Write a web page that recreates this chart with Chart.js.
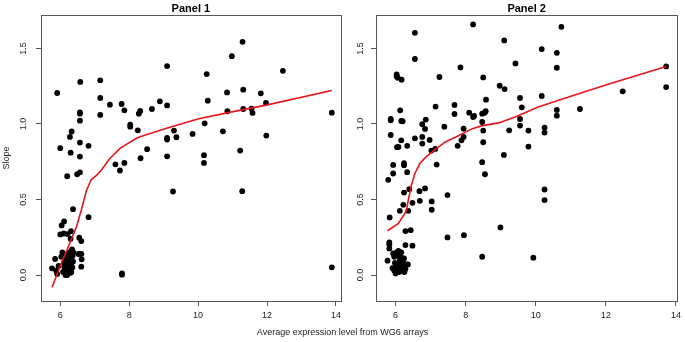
<!DOCTYPE html>
<html><head><meta charset="utf-8">
<script src="https://cdn.jsdelivr.net/npm/chart.js@4/dist/chart.umd.min.js"></script>
<style>
html,body{margin:0;padding:0;background:#fff;width:685px;height:342px;overflow:hidden;}
#c1{position:absolute;left:0;top:0;}
#c2{position:absolute;left:345px;top:0;}
#xt{position:absolute;left:0;width:685px;top:327px;line-height:11px;text-align:center;font:9px "Liberation Sans",Arial,sans-serif;color:#222;}
</style></head><body>
<canvas id="c1" width="345" height="342"></canvas>
<canvas id="c2" width="340" height="342"></canvas>
<div id="xt">Average expression level from WG6 arrays</div>
<script>
const xTicks=[6,8,10,12,14];
const yTicks=[0,0.5,1.0,1.5];
const titles=["Panel 1","Panel 2"];
const yTitle="Slope";

const p1x=[5.91,6.0,6.2,6.28,6.30,6.33,6.37,6.49,6.58,6.57,6.57,6.57,6.57,6.57,6.57,6.82,6.82,7.16,7.16,7.16,7.44,7.78,7.86,7.60,7.73,7.86,7.79,7.79,8.03,8.03,8.25,8.28,8.32,8.33,8.52,8.66,8.89,9.10,9.10,9.10,9.10,9.10,9.30,9.37,9.27,9.84,10.17,10.17,10.19,10.25,10.28,10.72,10.84,10.85,10.98,11.29,11.31,11.31,11.22,11.28,11.55,11.58,11.82,11.97,11.98,12.46,13.88,13.88,
5.76,5.85,5.88,5.91,5.95,6.0,6.04,6.11,6.10,6.21,6.31,6.30,6.55,6.61,6.53,6.61,6.62,6.61,6.03,6.06,
6.08,6.10,6.12,6.14,6.15,6.16,6.17,6.18,6.19,6.20,6.21,6.22,6.23,6.24,6.25,6.26,6.27,6.28,6.29,6.30,6.31,6.32,6.33,6.34,6.35,6.36,6.37,6.38,6.12,6.18,6.22,6.27,6.20,6.30,6.24,6.15];
const p1y=[1.205,0.84,0.654,0.914,0.81,0.95,0.436,0.667,1.278,1.077,1.068,1.022,0.877,0.784,0.68,0.855,0.383,1.289,1.172,1.06,1.128,1.132,1.09,0.733,0.692,0.742,0.01,0.002,0.996,0.982,0.958,1.068,1.086,0.773,0.833,1.099,1.15,1.383,1.123,0.907,0.897,0.786,0.956,0.912,0.553,0.934,0.793,0.742,1.004,1.33,1.154,0.951,1.209,1.084,1.449,1.544,1.227,1.099,0.824,0.555,1.101,1.073,1.203,1.139,0.923,1.352,1.075,0.051,
0.044,0.106,0.029,0.007,0.06,0.269,0.328,0.355,0.275,0.271,0.29,0.24,0.247,0.225,0.139,0.139,0.104,0.055,0.121,0.15,
0.02,0.08,0.05,0.11,0.0,0.03,0.07,0.13,0.01,0.09,0.04,0.12,0.06,0.02,0.10,0.15,0.05,0.08,0.03,0.12,0.07,0.02,0.10,0.17,0.05,0.13,0.09,0.15,0.13,0.045,0.075,0.115,0.0,0.015,0.14,0.09];
const p1lx=[5.76,5.99,6.23,6.47,6.61,6.76,6.90,7.05,7.19,7.43,7.74,8.25,9.06,10.02,10.98,11.94,13.88];
const p1ly=[-0.081,0.055,0.187,0.32,0.43,0.56,0.632,0.66,0.694,0.77,0.84,0.91,0.97,1.035,1.08,1.123,1.222];

const p2x=[6.55,6.55,6.03,6.03,6.06,6.17,5.86,5.86,5.86,5.79,5.83,5.93,5.93,6.04,6.08,6.13,6.16,6.20,6.16,6.24,6.24,6.33,6.33,6.24,6.39,6.22,6.12,6.36,6.48,6.55,6.28,6.43,6.28,6.48,6.68,6.69,6.76,6.86,6.84,6.76,6.76,6.84,6.97,7.02,7.13,7.14,7.17,7.03,7.03,7.25,7.39,7.68,7.68,7.77,7.48,7.48,7.85,7.88,7.94,7.94,7.95,8.10,8.21,8.24,8.21,8.47,8.54,8.57,8.50,8.47,8.50,8.50,8.47,8.55,8.58,8.47,8.97,9.11,9.10,9.09,8.99,9.24,9.42,9.55,9.60,9.55,9.55,9.79,9.79,9.93,10.17,10.17,10.25,10.25,10.25,10.25,10.60,10.60,10.60,10.60,10.73,11.26,12.48,13.72,13.72,
5.77,5.82,5.82,5.82,5.91,5.93,5.96,5.96,6.0,6.03,6.05,6.08,6.10,6.12,6.01,6.05,6.07,6.13,6.15,6.18,6.20,6.22,6.25,6.28,6.30,6.35,6.24,6.16,6.10,5.98];
const p2y=[1.603,1.43,1.328,1.315,1.306,1.293,1.033,1.024,0.927,0.63,0.381,0.729,0.672,0.846,0.848,1.09,1.02,1.018,0.892,0.74,0.727,0.855,0.681,0.546,0.568,0.465,0.425,0.425,0.478,0.905,0.291,0.297,0.198,0.194,0.555,0.491,0.998,1.029,0.967,0.914,0.87,0.573,0.894,0.824,0.835,1.115,0.731,0.487,0.432,1.311,0.982,1.126,1.066,0.855,0.529,0.249,1.374,0.892,0.969,0.914,0.264,1.075,1.046,1.053,1.659,1.068,1.075,1.084,1.308,1.013,0.956,0.879,0.747,0.667,1.161,0.121,1.253,1.231,1.553,0.795,0.315,0.958,1.401,1.172,1.11,1.033,0.989,0.956,0.85,0.115,1.496,1.185,0.976,0.943,0.566,0.496,1.471,1.372,1.093,1.055,1.643,1.099,1.216,1.381,1.244,
0.095,0.216,0.203,0.176,0.046,0.143,0.121,0.03,0.01,0.15,0.13,0.16,0.07,0.10,0.06,0.02,0.04,0.03,0.12,0.06,0.09,0.05,0.02,0.04,0.07,0.07,0.11,0.15,0.02,0.08];
const p2lx=[5.77,6.08,6.26,6.31,6.36,6.45,6.55,6.69,6.87,7.16,7.42,7.72,8.19,8.47,8.94,9.41,10.07,10.63,11.95,13.72];
const p2ly=[0.293,0.341,0.407,0.43,0.495,0.595,0.672,0.738,0.782,0.837,0.881,0.914,0.969,0.989,1.007,1.046,1.112,1.156,1.255,1.381];

const FONT="'Liberation Sans', Arial, sans-serif";
const boxPlugin={id:'box',afterDatasetsDraw(ch){const a=ch.chartArea,c=ch.ctx;c.save();c.strokeStyle='#555';c.lineWidth=1;c.strokeRect(Math.round(a.left)+0.5,Math.round(a.top)+0.5,Math.round(a.right-a.left),Math.round(a.bottom-a.top));c.restore();}};
const yLabPlugin={id:'ylab',afterDraw(ch,args,opts){
  const s=ch.scales.y,c=ch.ctx,a=ch.chartArea;c.save();
  c.font="9px "+FONT;c.fillStyle='#222';c.textAlign='center';c.textBaseline='middle';
  s.ticks.forEach(t=>{const y=s.getPixelForValue(t.value);c.save();c.translate(a.left-opts.off,y);c.rotate(-Math.PI/2);c.fillText(t.value.toFixed(1),0,0);c.restore();});
  c.restore();}};

function make(id,xs,ys,lx,ly,title,showYTitle,yw,xmin,xmax,padR,off){
  const pts=xs.map((x,i)=>({x:x,y:ys[i]}));
  const ln=lx.map((x,i)=>({x:x,y:ly[i]}));
  return new Chart(document.getElementById(id),{
    type:'scatter',
    data:{datasets:[
      {data:ln,showLine:true,borderColor:'#e8161b',borderWidth:1.6,pointRadius:0,order:0,tension:0},
      {data:pts,pointRadius:2.9,pointBackgroundColor:'#000',pointBorderColor:'#000',pointBorderWidth:0,order:1}
    ]},
    options:{responsive:false,animation:false,devicePixelRatio:1,
      layout:{padding:{left:0,right:padR,top:0,bottom:0}},
      plugins:{legend:{display:false},tooltip:{enabled:false},ylab:{off:off},
        title:{display:true,text:title,fullSize:false,font:{family:FONT,size:11,weight:'bold'},color:'#000',padding:{top:2,bottom:0}}},
      scales:{
        x:{type:'linear',min:xmin,max:xmax,
          afterBuildTicks:s=>{s.ticks=xTicks.map(v=>({value:v}));},
          afterFit:s=>{s.height=41;},
          grid:{display:true,drawOnChartArea:false,drawTicks:true,tickLength:5,color:'#555'},
          border:{display:false},
          ticks:{font:{family:FONT,size:9},color:'#222',padding:4,maxRotation:0,autoSkip:false,callback:v=>String(v)}},
        y:{type:'linear',min:-0.172,max:1.72,
          afterBuildTicks:s=>{s.ticks=yTicks.map(v=>({value:v}));},
          afterFit:s=>{s.width=yw;},
          grid:{display:true,drawOnChartArea:false,drawTicks:true,tickLength:5,color:'#555'},
          border:{display:false},
          title:{display:showYTitle,text:yTitle,font:{family:FONT,size:9},color:'#222',padding:{top:1,bottom:0}},
          ticks:{display:false}}
      }
    },
    plugins:[boxPlugin,yLabPlugin]
  });
}
make('c1',p1x,p1y,p1lx,p1ly,titles[0],true,41,5.44,14.14,2,17.5);
make('c2',p2x,p2y,p2lx,p2ly,titles[1],false,31,5.44,14.04,4,15.3);
</script>
</body></html>
